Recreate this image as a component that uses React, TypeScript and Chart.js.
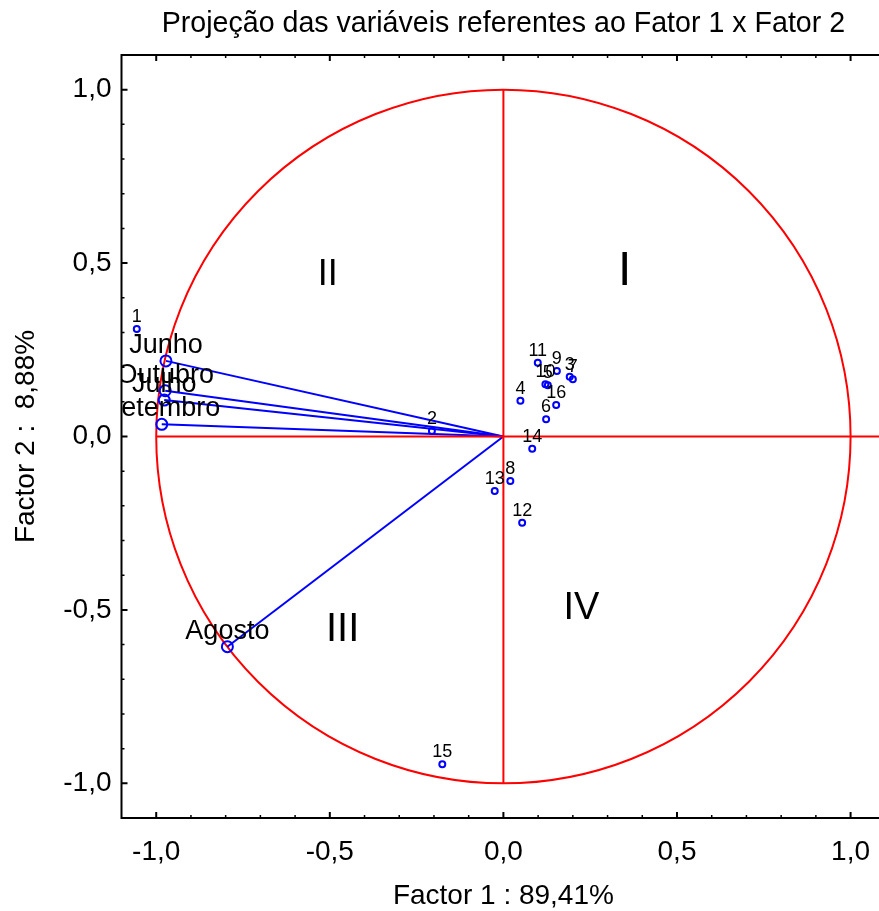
import React, { useEffect, useRef } from "react";
import { Chart, registerables } from "chart.js";

Chart.register(...registerables);

const FONT = "'Liberation Sans', Arial, sans-serif";
const RED = "#ff0000";
const BLUE = "#0000ff";

const titleText = "Projeção das variáveis referentes ao Fator 1 x Fator 2";
const xTitle = "Factor 1 : 89,41%";
const yTitle = "Factor 2 :  8,88%";

const majorTicks = [-1, -0.5, 0, 0.5, 1];
const xTickRange = [-11, 11]; // tenths
const yTickRange = [-11, 11]; // tenths

// variables (months)
const varNames = ["Junho", "Outubro", "Julho", "Setembro", "Agosto"];
const varX = [-0.972, -0.974, -0.977, -0.984, -0.795];
const varY = [0.218, 0.132, 0.105, 0.035, -0.606];

// observations
const obsLabels = ["1", "2", "3", "4", "5", "6", "7", "8", "9", "10", "11", "12", "13", "14", "15", "16"];
const obsX = [-1.056, -0.206, 0.191, 0.049, 0.128, 0.123, 0.2, 0.02, 0.154, 0.121, 0.099, 0.054, -0.025, 0.083, -0.176, 0.152];
const obsY = [0.31, 0.016, 0.172, 0.103, 0.148, 0.05, 0.165, -0.128, 0.189, 0.151, 0.213, -0.249, -0.157, -0.035, -0.945, 0.091];

// quadrant labels
const quadNames = ["I", "II", "III", "IV"];
const quadX = [0.349, -0.506, -0.463, 0.225];
const quadY = [0.474, 0.466, -0.558, -0.495];
const quadSize = [48, 36, 40, 38];

const fmt = (v: number) => v.toFixed(1).replace(".", ",");
const isMajor = (v: number) => majorTicks.some((m) => Math.abs(m - v) < 1e-6);
const buildTicks = (range: number[]) => (s: any) => {
  const t: any[] = [];
  for (let k = range[0]; k <= range[1]; k++) t.push({ value: k / 10 });
  s.ticks = t;
};

const overlay = {
  id: "overlay",
  beforeDatasetsDraw(chart: any) {
    const { ctx, chartArea: a, scales } = chart;
    const x = scales.x, y = scales.y;
    ctx.save();
    ctx.beginPath();
    ctx.rect(a.left, a.top, a.right - a.left, a.bottom - a.top);
    ctx.clip();
    const cx = x.getPixelForValue(0);
    const cy = y.getPixelForValue(0);
    const rx = x.getPixelForValue(1) - cx;
    const ry = cy - y.getPixelForValue(1);
    ctx.strokeStyle = RED;
    ctx.lineWidth = 2;
    ctx.beginPath();
    ctx.ellipse(cx, cy, rx, ry, 0, 0, Math.PI * 2);
    ctx.stroke();
    ctx.fillStyle = "#000";
    ctx.textAlign = "center";
    ctx.textBaseline = "middle";
    quadNames.forEach((q, i) => {
      ctx.font = `${quadSize[i]}px ${FONT}`;
      ctx.fillText(q, x.getPixelForValue(quadX[i]), y.getPixelForValue(quadY[i]));
    });
    ctx.restore();
  },
  afterDatasetsDraw(chart: any) {
    const { ctx, chartArea: a, scales } = chart;
    const x = scales.x, y = scales.y;
    ctx.save();
    ctx.beginPath();
    ctx.rect(a.left, a.top, a.right - a.left, a.bottom - a.top);
    ctx.clip();
    ctx.fillStyle = "#000";
    ctx.textAlign = "center";
    ctx.textBaseline = "alphabetic";
    const vm = chart.getDatasetMeta(7);
    ctx.font = `27px ${FONT}`;
    varNames.forEach((n, i) => {
      const p = vm.data[i];
      ctx.fillText(n, p.x, p.y - 8);
    });
    const om = chart.getDatasetMeta(8);
    ctx.font = `18px ${FONT}`;
    obsLabels.forEach((n, i) => {
      const p = om.data[i];
      ctx.fillText(n, p.x, p.y - 7);
    });
    ctx.restore();

    // frame and inward ticks
    ctx.save();
    ctx.strokeStyle = "#000";
    ctx.lineWidth = 2;
    ctx.beginPath();
    ctx.moveTo(a.right, a.top);
    ctx.lineTo(a.left, a.top);
    ctx.lineTo(a.left, a.bottom);
    ctx.lineTo(a.right, a.bottom);
    ctx.lineTo(a.right, a.top);
    ctx.stroke();
    x.ticks.forEach((t: any) => {
      const px = x.getPixelForValue(t.value);
      if (px <= a.left + 1 || px >= a.right - 1) return;
      const major = isMajor(t.value);
      const len = major ? 6 : 3;
      ctx.lineWidth = major ? 2 : 1.5;
      ctx.beginPath();
      ctx.moveTo(px, a.bottom);
      ctx.lineTo(px, a.bottom - len);
      ctx.moveTo(px, a.top);
      ctx.lineTo(px, a.top + len);
      ctx.stroke();
    });
    y.ticks.forEach((t: any) => {
      const py = y.getPixelForValue(t.value);
      if (py <= a.top + 1 || py >= a.bottom - 1) return;
      const major = isMajor(t.value);
      const len = major ? 6 : 3;
      ctx.lineWidth = major ? 2 : 1.5;
      ctx.beginPath();
      ctx.moveTo(a.left, py);
      ctx.lineTo(a.left + len, py);
      ctx.moveTo(a.right, py);
      ctx.lineTo(a.right - len, py);
      ctx.stroke();
    });

    // titles centred on the x = 0 line, as in the reference
    const x0 = x.getPixelForValue(0);
    ctx.fillStyle = "#000";
    ctx.textAlign = "center";
    ctx.textBaseline = "middle";
    ctx.font = `28.6px ${FONT}`;
    ctx.fillText(titleText, x0, a.top - 30.5);
    ctx.font = `28px ${FONT}`;
    ctx.fillText(xTitle, x0, a.bottom + 78);
    ctx.restore();
  },
};

export default function App() {
  const ref = useRef<HTMLCanvasElement | null>(null);
  useEffect(() => {
    if (!ref.current) return;
    const lineDs = (data: any[], color: string) => ({
      type: "line" as const,
      data,
      showLine: true,
      borderColor: color,
      borderWidth: 2,
      pointRadius: 0,
      fill: false,
    });
    const datasets: any[] = [
      lineDs([{ x: -1, y: 0 }, { x: 1.1, y: 0 }], RED),
      lineDs([{ x: 0, y: -1 }, { x: 0, y: 1 }], RED),
      ...varNames.map((_, i) => lineDs([{ x: 0, y: 0 }, { x: varX[i], y: varY[i] }], BLUE)),
      {
        type: "scatter",
        data: varNames.map((_, i) => ({ x: varX[i], y: varY[i] })),
        pointRadius: 5.5,
        pointBorderColor: BLUE,
        pointBackgroundColor: "rgba(0,0,0,0)",
        pointBorderWidth: 2,
      },
      {
        type: "scatter",
        data: obsLabels.map((_, i) => ({ x: obsX[i], y: obsY[i] })),
        pointRadius: 3,
        pointBorderColor: BLUE,
        pointBackgroundColor: "rgba(0,0,0,0)",
        pointBorderWidth: 2,
      },
    ];
    const tickFont = { family: FONT, size: 28 };
    const chart = new Chart(ref.current, {
      type: "scatter",
      data: { datasets },
      plugins: [overlay],
      options: {
        animation: false,
        responsive: false,
        devicePixelRatio: 1,
        layout: { padding: { left: 0, right: 22.7, top: 47, bottom: 0 } },
        plugins: {
          legend: { display: false },
          tooltip: { enabled: false },
          title: { display: false },
        },
        scales: {
          x: {
            type: "linear",
            position: "bottom",
            min: -1.1,
            max: 1.1,
            afterBuildTicks: buildTicks(xTickRange),
            grid: { display: false, drawTicks: false },
            border: { display: false },
            ticks: {
              autoSkip: false,
              maxRotation: 0,
              padding: 17,
              color: "#000",
              font: tickFont,
              callback: (v: any) => (isMajor(Number(v)) ? fmt(Number(v)) : ""),
            },
            title: { display: false, text: xTitle },
            afterFit: (s: any) => {
              s.height = 93;
            },
          },
          y: {
            type: "linear",
            position: "left",
            min: -1.1,
            max: 1.1,
            afterBuildTicks: buildTicks(yTickRange),
            grid: { display: false, drawTicks: false },
            border: { display: false },
            ticks: {
              autoSkip: false,
              padding: 10,
              color: "#000",
              font: tickFont,
              callback: (v: any) => (isMajor(Number(v)) ? fmt(Number(v)) : ""),
            },
            title: {
              display: true,
              text: yTitle,
              color: "#000",
              font: { family: FONT, size: 28 },
              padding: { top: 1, bottom: 0 },
            },
            afterFit: (s: any) => {
              s.width = 113.5;
            },
          },
        },
      } as any,
    });
    return () => chart.destroy();
  }, []);
  return (
    <div
      style={{
        position: "absolute",
        left: 0,
        top: 0,
        width: 879,
        height: 911,
        overflow: "hidden",
      }}
    >
      <canvas
        ref={ref}
        width={900}
        height={903}
        style={{ position: "absolute", left: 8, top: 8, display: "block" }}
      />
    </div>
  );
}
